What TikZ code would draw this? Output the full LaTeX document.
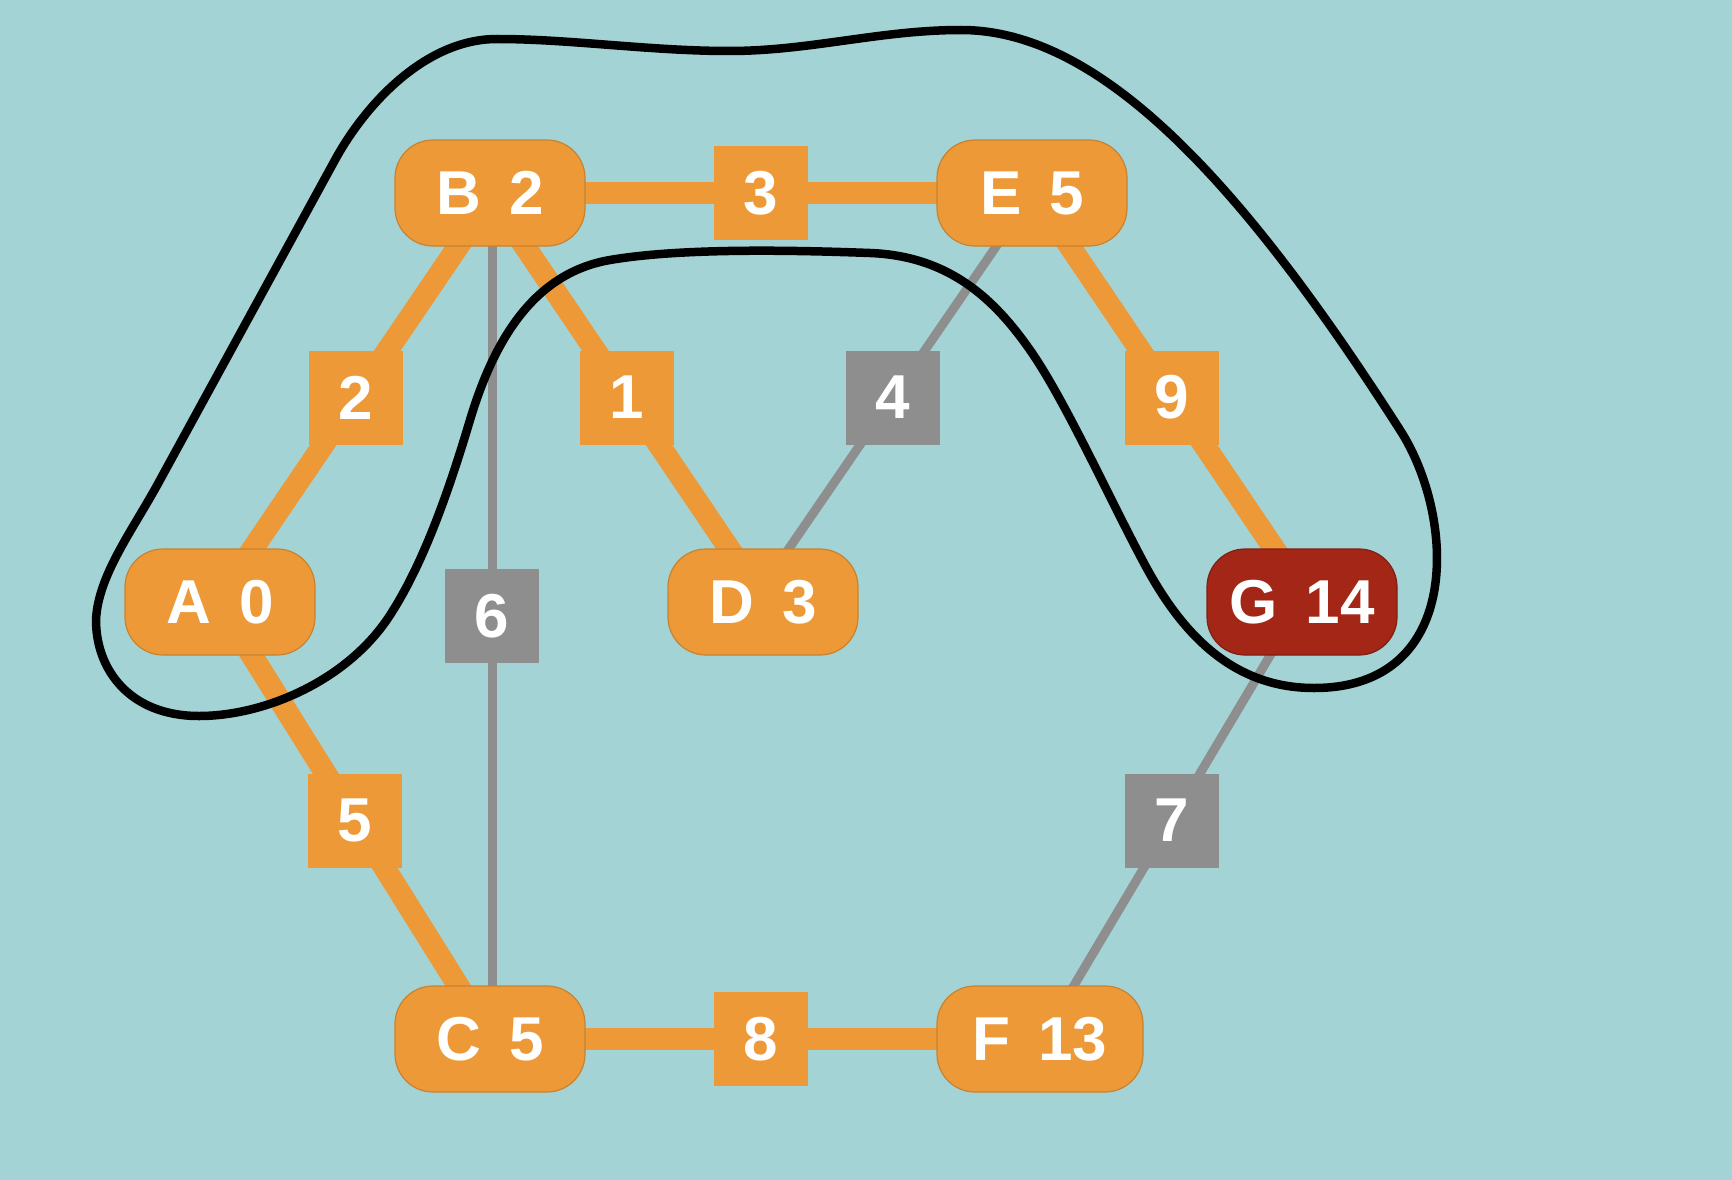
\documentclass[tikz,border=0pt]{standalone}
\usepackage{xcolor}
\usepackage{fontspec}
\setmainfont{Liberation Sans}
\usepackage{tikz}
\definecolor{bgteal}{RGB}{163, 211, 213}
\definecolor{pathorange}{RGB}{237, 153, 55}
\definecolor{edgegray}{RGB}{142, 142, 142}
\definecolor{goalred}{RGB}{163, 38, 22}
\pgfdeclarelayer{bg}
\pgfdeclarelayer{edges}
\pgfsetlayers{bg,edges,main}

\begin{document}
\begin{tikzpicture}[x=1pt, y=-1pt,
    vertex/.style={rectangle, rounded corners=38pt, fill=pathorange, draw=pathorange!85!black, line width=1.2pt, minimum width=190pt, minimum height=106pt, inner sep=0pt, text=white, font=\fontsize{62}{64}\selectfont\bfseries},
    goal/.style={vertex, fill=goalred, draw=goalred!80!black},
    wbox/.style={rectangle, fill=pathorange, minimum size=94pt, inner sep=0pt, text=white, font=\fontsize{62}{64}\selectfont\bfseries},
    gbox/.style={wbox, fill=edgegray},
    tree/.style={pathorange, line width=22pt, shorten <=-12pt, shorten >=-12pt},
    plain/.style={edgegray, line width=9pt, shorten <=-8pt, shorten >=-8pt},
    loopline/.style={black, line width=8.5pt, line cap=round, line join=round}]
        % Backdrop
        \begin{pgfonlayer}{bg}
            \fill[bgteal] (0,0) rectangle (1732,1180);
        \end{pgfonlayer}
        \useasboundingbox (0,0) rectangle (1732,1180);

        % Vertices: name and distance
        \node[vertex] (A) at (220,602) {A\hspace{0.45em}0};
        \node[vertex] (B) at (490,193) {B\hspace{0.45em}2};
        \node[vertex] (C) at (490,1039) {C\hspace{0.45em}5};
        \node[vertex] (D) at (763,602) {D\hspace{0.45em}3};
        \node[vertex] (E) at (1032,193) {E\hspace{0.45em}5};
        \node[vertex, minimum width=206pt] (F) at (1040,1039) {F\hspace{0.45em}13};
        \node[goal] (G) at (1302,602) {G\hspace{0.45em}14};

        % Edges with weights
        \begin{pgfonlayer}{edges}
            % shortest-path tree
            \draw[tree] (B) -- node[wbox] {3} (E);
            \draw[tree] (C) -- node[wbox] {8} (F);
            \draw[tree] ([xshift=33pt]A.north) -- node[wbox] {2} ([xshift=-32pt]B.south);
            \draw[tree] ([xshift=35pt]B.south) -- node[wbox] {1} ([xshift=-34pt]D.north);
            \draw[tree] ([xshift=38pt]E.south) -- node[wbox] {9} ([xshift=-28pt]G.north);
            \draw[tree] ([xshift=32pt]A.south) -- node[wbox] {5} ([xshift=-32pt]C.north);
            % other edges
            \draw[plain] ([xshift=-36pt]E.south) -- node[gbox] {4} ([xshift=26pt]D.north);
            \draw[plain] ([xshift=2pt]B.south) -- node[gbox] {6} ([xshift=2pt]C.north);
            \draw[plain] ([xshift=-32pt]G.south) -- node[gbox] {7} ([xshift=34pt]F.north);
        \end{pgfonlayer}

        % Hand-drawn outline round the tree
        \draw[loopline] (96,620)
            .. controls (98,575) and (133,530) .. (160,480)
            -- (335,160)
            .. controls (365,105) and (425,39) .. (497,39)
            .. controls (570,39) and (650,51) .. (729,51)
            .. controls (810,51) and (880,30) .. (961,30)
            .. controls (1100,30) and (1240,180) .. (1400,430)
            .. controls (1455,515) and (1465,688) .. (1314,688)
            .. controls (1230,688) and (1180,630) .. (1145,565)
            .. controls (1110,500) and (1065,400) .. (1030,350)
            .. controls (995,300) and (950,256) .. (870,253)
            .. controls (790,250) and (680,248) .. (610,260)
            .. controls (540,272) and (497,330) .. (470,420)
            .. controls (450,487) and (425,560) .. (392,612)
            .. controls (350,680) and (265,716) .. (199,716)
            .. controls (130,716) and (96,670) .. (96,620);

    \end{tikzpicture}
\end{document}
